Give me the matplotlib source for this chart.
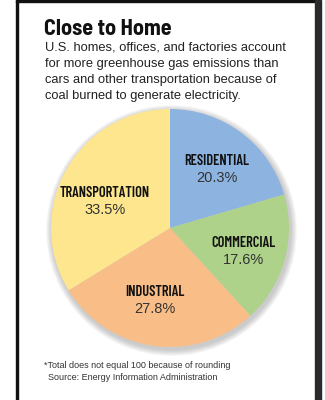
import numpy as np
import matplotlib
matplotlib.use("Agg")
import matplotlib.pyplot as plt
from matplotlib.patches import Circle, Rectangle

categories = ["RESIDENTIAL", "COMMERCIAL", "INDUSTRIAL", "TRANSPORTATION"]
values = [20.3, 17.6, 27.8, 33.5]
value_labels = ["20.3%", "17.6%", "27.8%", "33.5%"]
colors = ["#8DB4E0", "#AED28A", "#F9BE87", "#FDE68E"]

title = "Close to Home"
subtitle = ["U.S. homes, offices, and factories account",
            "for more greenhouse gas emissions than",
            "cars and other transportation because of",
            "coal burned to generate electricity."]
footnote = "*Total does not equal 100 because of rounding"
source = "Source: Energy Information Administration"

W, H = 325, 400
fig = plt.figure(figsize=(W / 100, H / 100), dpi=100)
ax = fig.add_axes([0, 0, 1, 1])

def Y(py):
    return H - py

cx, cy, R = 170, Y(228), 119

# soft shadow
for k in range(8, 0, -1):
    ax.add_patch(Circle((cx + 1.5, cy - 2.5), R + k * 0.8, color="#707070",
                        alpha=0.05, lw=0, zorder=1))

wedges, _ = ax.pie(values, colors=colors, startangle=90, counterclock=False,
                   center=(cx, cy), radius=R, frame=True,
                   wedgeprops=dict(linewidth=0))
for w in wedges:
    w.set_zorder(3)
ax.set_xlim(0, W)
ax.set_ylim(0, H)
ax.set_aspect("equal")
ax.axis("off")

# frame
ax.add_patch(Rectangle((15.5, 0), 2.2, H, color="#111111", zorder=10))
ax.add_patch(Rectangle((15.5, Y(1.8)), 301, 1.8, color="#111111", zorder=10))
ax.add_patch(Rectangle((315, 0), 6, H, color="#2a2a2a", zorder=10))

cond = ["Barlow Condensed", "DejaVu Sans"]
cond_t = ["Barlow Semi Condensed", "DejaVu Sans"]
reg = ["Liberation Sans", "DejaVu Sans"]

rfrac = [0.63, 0.65, 0.62, 0.59]
doff = [-2, -2, -4, 7]
for w, cat, vl, rf, d in zip(wedges, categories, value_labels, rfrac, doff):
    mid = np.deg2rad((w.theta1 + w.theta2) / 2 + d)
    x = cx + rf * R * np.cos(mid)
    y = cy + rf * R * np.sin(mid)
    ax.text(x, y + 8.5, cat, ha="center", va="center", fontsize=10.4,
            fontweight=600, family=cond, color="#111111", zorder=5)
    ax.text(x, y - 8.5, vl, ha="center", va="center", fontsize=10.5,
            family=reg, color="#333333", zorder=5)

ax.text(44, Y(29), title, ha="left", va="center", fontsize=16,
        fontweight="bold", family=cond_t, color="#111111")
for i, line in enumerate(subtitle):
    ax.text(45, Y(48 + 16 * i), line, ha="left", va="center", fontsize=9.3,
            family=reg, color="#222222")

ax.text(44, Y(365), footnote, ha="left", va="center", fontsize=6.5,
        family=reg, color="#333333")
ax.text(48, Y(377), source, ha="left", va="center", fontsize=6.5,
        family=reg, color="#333333")

fig.savefig("out.png", dpi=100)
